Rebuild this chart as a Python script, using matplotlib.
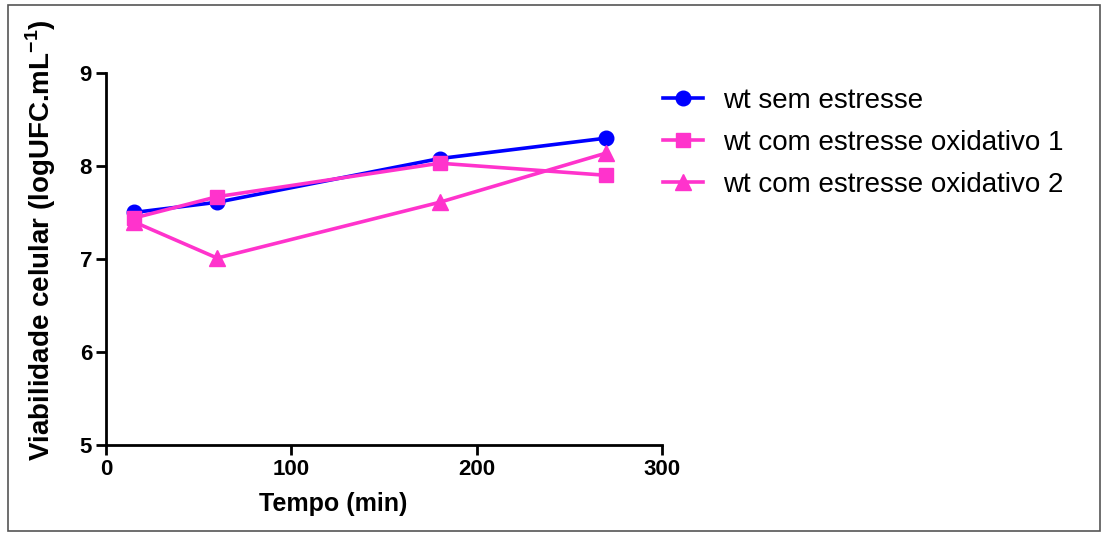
import matplotlib
matplotlib.use("Agg")
import matplotlib.pyplot as plt
from matplotlib.patches import Rectangle

plt.rcParams['font.family'] = ['Liberation Sans', 'DejaVu Sans']

tempo = [15, 60, 180, 270]
sem_estresse = [7.50, 7.61, 8.08, 8.30]
oxidativo_1 = [7.44, 7.67, 8.03, 7.90]
oxidativo_2 = [7.40, 7.01, 7.61, 8.14]

labels = ["wt sem estresse", "wt com estresse oxidativo 1",
          "wt com estresse oxidativo 2"]

blue = "#0000ff"
pink = "#ff33cc"

fig = plt.figure(figsize=(11.06, 5.36), dpi=100)
ax = fig.add_axes([0.0958, 0.1698, 0.5028, 0.694])

ax.plot(tempo, sem_estresse, color=blue, lw=2.6, marker='o', ms=10.5,
        label=labels[0])
ax.plot(tempo, oxidativo_1, color=pink, lw=2.6, marker='s', ms=10,
        label=labels[1])
ax.plot(tempo, oxidativo_2, color=pink, lw=2.6, marker='^', ms=11,
        label=labels[2])

ax.set_xlim(0, 300)
ax.set_ylim(5, 9)
ax.set_xticks([0, 100, 200, 300])
ax.set_yticks([5, 6, 7, 8, 9])
ax.spines['top'].set_visible(False)
ax.spines['right'].set_visible(False)
for s in ('left', 'bottom'):
    ax.spines[s].set_linewidth(2)
ax.tick_params(direction='out', length=7, width=2, labelsize=16, pad=3)
for lab in ax.get_xticklabels() + ax.get_yticklabels():
    lab.set_fontweight('bold')

ax.set_xlabel("Tempo (min)", fontsize=18, fontweight='bold')
ax.xaxis.set_label_coords(0.408, -0.127)
ax.set_ylabel("Viabilidade celular (logUFC.mL$^{\\mathregular{-1}}$)",
              fontsize=20, fontweight='bold')
ax.yaxis.set_label_coords(-0.086, 0.55)

ax.legend(loc='upper left', bbox_to_anchor=(1.002, 0.96), frameon=False,
          fontsize=20, handlelength=1.45, handletextpad=0.72,
          labelspacing=0.57, borderpad=0, borderaxespad=0)

fig.patches.append(Rectangle((8 / 1106, 5 / 536), 1092 / 1106, 526 / 536,
                             transform=fig.transFigure, fill=False,
                             edgecolor='#555555', lw=1.2))

fig.savefig("out.png", dpi=100)
